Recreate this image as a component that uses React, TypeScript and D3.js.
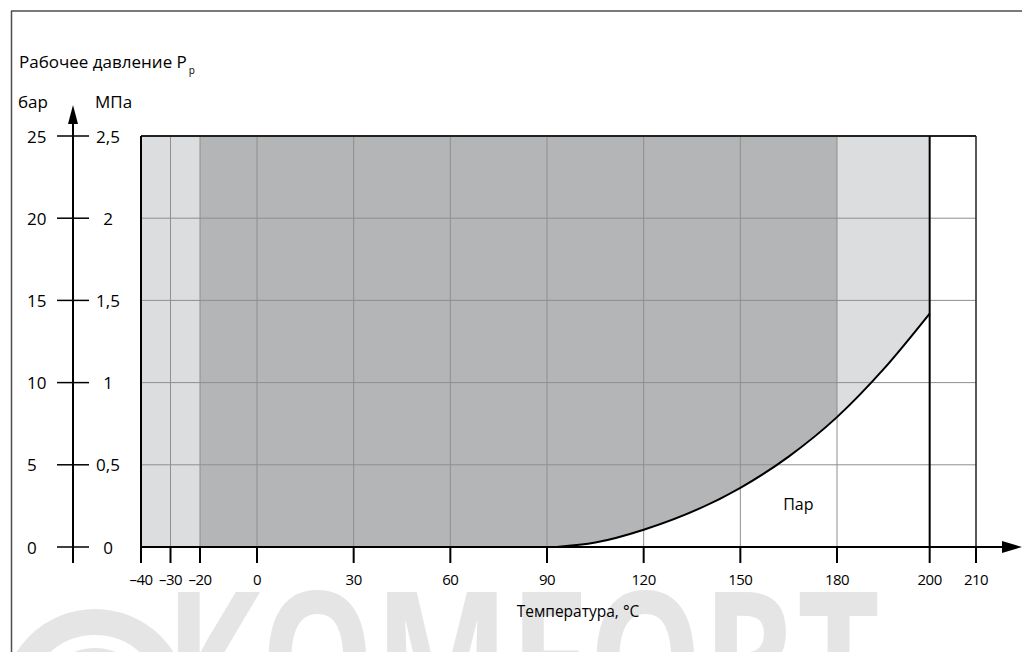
import * as d3 from 'd3';

// tick values on the temperature axis (°C)
const TEMP_TICKS = [-40, -30, -20, 0, 30, 60, 90, 120, 150, 180, 200, 210];
// pressure ticks, bar and MPa
const BAR_TICKS = [0, 5, 10, 15, 20, 25];
const MPA_LABELS = ['0', '0,5', '1', '1,5', '2', '2,5'];

// saturated steam line (gauge pressure, bar)
const STEAM_TEMP = [93, 105, 120, 150, 165, 180, 190, 200];
const STEAM_BAR = [0, 0.27, 1.05, 3.6, 5.5, 7.9, 10.8, 14.2];

// operating zones
const LIGHT_ZONE = [-40, 200];
const DARK_ZONE = [-20, 180];

const FONT = '"Open Sans", "Noto Sans", sans-serif';
const LIGHT = '#dcdddf';
const DARK = '#b4b5b7';
const GRID = '#8f8f8f';
const WATERMARK = '#e5e5e5';

const App = () => {
  const width = 1022;
  const height = 652;

  // the original drawing is not uniform along the temperature axis
  const x = d3.scaleLinear().domain([-40, -20, 0, 180, 210]).range([141, 200, 257, 837, 976]);
  const y = d3.scaleLinear().domain([0, 25]).range([547, 136]);

  const steam = STEAM_TEMP.map((t, i) => ({ t, p: STEAM_BAR[i] }));

  const area = d3
    .area<{ t: number; p: number }>()
    .x((d) => x(d.t))
    .y0(y(0))
    .y1((d) => y(d.p))
    .curve(d3.curveMonotoneX);

  const line = d3
    .line<{ t: number; p: number }>()
    .x((d) => x(d.t))
    .y((d) => y(d.p))
    .curve(d3.curveMonotoneX);

  const xMin = x(-40);
  const xMax = x(210);
  const yTop = y(25);
  const yBot = y(0);
  const axisX = 73;

  return (
    <svg
      width={width}
      height={height}
      style={{ position: 'absolute', left: 0, top: 0, background: '#fff' }}
      fontFamily={FONT}
      fill="#000"
    >
      {/* watermark */}
      <g fill="none" stroke={WATERMARK}>
        <circle cx={95} cy={702} r={80} strokeWidth={26} />
        <circle cx={95} cy={702} r={46} strokeWidth={16} />
      </g>
      <text
        x={165}
        y={728}
        fontSize={190}
        fontWeight={700}
        fill={WATERMARK}
        textLength={715}
        lengthAdjust="spacingAndGlyphs"
      >
        KOMFORT
      </text>

      {/* outer frame */}
      <line x1={11.5} x2={11.5} y1={11} y2={height} stroke="#4d4d4d" strokeWidth={1.5} />
      <line x1={11} x2={width} y1={11} y2={11} stroke="#4d4d4d" strokeWidth={1.5} />

      {/* zones */}
      <rect
        x={x(LIGHT_ZONE[0])}
        y={yTop}
        width={x(LIGHT_ZONE[1]) - x(LIGHT_ZONE[0])}
        height={yBot - yTop}
        fill={LIGHT}
      />
      <rect
        x={x(DARK_ZONE[0])}
        y={yTop}
        width={x(DARK_ZONE[1]) - x(DARK_ZONE[0])}
        height={yBot - yTop}
        fill={DARK}
      />
      <path d={area(steam) ?? ''} fill="#fff" />

      {/* grid */}
      {TEMP_TICKS.filter((t) => t !== -40 && t !== 200 && t !== 210).map((t) => (
        <line key={t} x1={x(t)} x2={x(t)} y1={yTop} y2={yBot} stroke={GRID} strokeWidth={1} />
      ))}
      {BAR_TICKS.filter((b) => b !== 0 && b !== 25).map((b) => (
        <line key={b} x1={xMin} x2={xMax} y1={y(b)} y2={y(b)} stroke={GRID} strokeWidth={1} />
      ))}

      {/* steam line */}
      <path d={line(steam) ?? ''} fill="none" stroke="#000" strokeWidth={2} />
      <text x={x(168)} y={y(2.6)} fontSize={16} textAnchor="middle" dominantBaseline="central">
        Пар
      </text>

      {/* plot frame */}
      <line x1={xMin} x2={xMax} y1={yTop} y2={yTop} stroke="#222" strokeWidth={2} />
      <line x1={xMax} x2={xMax} y1={yTop} y2={yBot} stroke="#222" strokeWidth={1.5} />
      <line x1={xMin} x2={xMin} y1={yTop} y2={yBot} stroke="#000" strokeWidth={2} />
      <line x1={x(200)} x2={x(200)} y1={yTop} y2={yBot} stroke="#000" strokeWidth={2} />

      {/* x axis */}
      <line x1={xMin} x2={1004} y1={yBot} y2={yBot} stroke="#000" strokeWidth={2} />
      <path d={`M1022,${yBot} L1002,${yBot - 6} L1002,${yBot + 6} Z`} fill="#000" />
      {TEMP_TICKS.map((t) => (
        <g key={t}>
          <line x1={x(t)} x2={x(t)} y1={yBot} y2={yBot + 16} stroke="#000" strokeWidth={2} />
          <text x={x(t)} y={yBot + 38} fontSize={15} textAnchor="middle" letterSpacing={-0.5}>
            {t < 0 ? `–${Math.abs(t)}` : t}
          </text>
        </g>
      ))}
      <text x={578} y={617} fontSize={15.5} textAnchor="middle">
        Температура, °C
      </text>

      {/* y axis */}
      <line x1={axisX} x2={axisX} y1={120} y2={yBot + 16} stroke="#000" strokeWidth={2} />
      <path d={`M${axisX},105 L${axisX - 5},124 L${axisX + 5},124 Z`} fill="#000" />
      {BAR_TICKS.map((b, i) => (
        <g key={b}>
          <line x1={57} x2={89} y1={y(b)} y2={y(b)} stroke="#000" strokeWidth={1.5} />
          <text x={27} y={y(b)} fontSize={17} dominantBaseline="central">
            {b}
          </text>
          <text x={108} y={y(b)} fontSize={17} textAnchor="middle" dominantBaseline="central">
            {MPA_LABELS[i]}
          </text>
        </g>
      ))}
      <text x={18} y={108} fontSize={17}>
        бар
      </text>
      <text x={95} y={108} fontSize={17}>
        МПа
      </text>
      <text x={19} y={68} fontSize={17}>
        Рабочее давление P
        <tspan fontSize={10} dy={6} dx={2} fill="#000">
          р
        </tspan>
      </text>
    </svg>
  );
};

export default App;
